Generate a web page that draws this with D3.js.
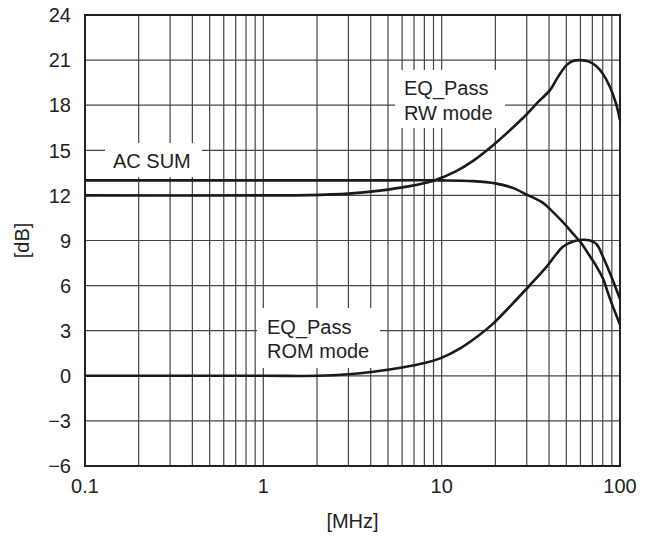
<!DOCTYPE html>
<html>
<head>
<meta charset="utf-8">
<script src="https://cdn.jsdelivr.net/npm/d3@7"></script>
<style>
  body { margin: 0; background: #fff; }
  text { font-family: "Liberation Sans", Arial, sans-serif; fill: #222; }
</style>
</head>
<body>
<div id="chart"></div>
<script>
// ─── Data ───────────────────────────────────────────────────────
const yTicks = [-6, -3, 0, 3, 6, 9, 12, 15, 18, 21, 24];
const xTickLabels = [0.1, 1, 10, 100];

const acSumFreq = [0.1, 1, 5, 10, 15, 20, 25, 30, 37, 42, 48, 55, 60, 67, 74, 80, 88, 100];
const acSumDb   = [13, 13, 13, 13, 12.95, 12.8, 12.5, 12.05, 11.5, 10.9, 10.2, 9.4, 8.9, 8.05, 7.25, 6.5, 5.1, 3.4];

const rwFreq = [0.1, 1, 1.8, 3, 4.5, 6.5, 9, 12, 15, 19.5, 25, 30, 35, 40.5, 45, 50.5, 55, 60, 67, 74, 80, 88, 95, 100];
const rwDb   = [12, 12, 12.02, 12.12, 12.32, 12.6, 12.98, 13.6, 14.3, 15.36, 16.5, 17.4, 18.25, 19.0, 19.9, 20.7, 20.95, 21.0, 20.9, 20.57, 20.1, 19.2, 18.1, 17.0];

const romFreq = [0.1, 1, 2, 3, 4.14, 6, 8, 9.8, 12.7, 16, 19.5, 25, 31.3, 38.8, 44, 48, 55, 62, 68, 74, 80, 88, 100];
const romDb   = [0, 0, 0, 0.1, 0.27, 0.55, 0.85, 1.16, 1.83, 2.65, 3.49, 4.8, 6.04, 7.26, 8.1, 8.6, 8.95, 9.05, 9.0, 8.75, 7.95, 6.8, 5.1];

const labels = [
    { lines: ['AC SUM'], box: [105, 143, 97, 34], x: 113, y: [168] },
    { lines: ['EQ_Pass', 'RW mode'], box: [395, 70, 110, 58], x: 404, y: [95, 120] },
    { lines: ['EQ_Pass', 'ROM mode'], box: [257, 308, 123, 60], x: 267, y: [334, 358] }
];

// ─── Layout ─────────────────────────────────────────────────────
const width = 648, height = 536;
const margin = { top: 15, right: 28, bottom: 70, left: 85 };
const fontSize = 20;

const svg = d3.select('#chart').append('svg')
    .attr('width', width)
    .attr('height', height);

const x = d3.scaleLog().domain([0.1, 100]).range([margin.left, width - margin.right]);
const y = d3.scaleLinear().domain([-6, 24]).range([height - margin.bottom, margin.top]);

// grid
const minor = [];
[0.1, 1, 10].forEach(d => { for (let k = 1; k <= 9; k++) if (!(d === 0.1 && k === 1)) minor.push(d * k); });

svg.append('g').selectAll('line')
    .data(minor)
    .join('line')
    .attr('x1', d => x(d)).attr('x2', d => x(d))
    .attr('y1', y(24)).attr('y2', y(-6))
    .attr('stroke', '#444')
    .attr('stroke-width', 1.2);

svg.append('g').selectAll('line')
    .data(yTicks.slice(1, -1))
    .join('line')
    .attr('x1', x(0.1)).attr('x2', x(100))
    .attr('y1', d => y(d)).attr('y2', d => y(d))
    .attr('stroke', '#444')
    .attr('stroke-width', 1.2);

// label boxes hide the grid
labels.forEach(l => {
    svg.append('rect')
        .attr('x', l.box[0]).attr('y', l.box[1])
        .attr('width', l.box[2]).attr('height', l.box[3])
        .attr('fill', '#fff');
});

// frame
svg.append('rect')
    .attr('x', x(0.1)).attr('y', y(24))
    .attr('width', x(100) - x(0.1))
    .attr('height', y(-6) - y(24))
    .attr('fill', 'none')
    .attr('stroke', '#222')
    .attr('stroke-width', 2);

// curves
const line = d3.line()
    .x(d => x(d[0]))
    .y(d => y(d[1]))
    .curve(d3.curveCatmullRom.alpha(0.5));

[[acSumFreq, acSumDb], [rwFreq, rwDb], [romFreq, romDb]].forEach(([f, v]) => {
    svg.append('path')
        .datum(f.map((d, i) => [d, v[i]]))
        .attr('d', line)
        .attr('fill', 'none')
        .attr('stroke', '#1a1a1a')
        .attr('stroke-width', 2.6);
});

// label text
labels.forEach(l => {
    l.lines.forEach((t, i) => {
        svg.append('text')
            .attr('x', l.x).attr('y', l.y[i])
            .attr('font-size', fontSize)
            .text(t);
    });
});

// ticks
svg.append('g').selectAll('text')
    .data(yTicks)
    .join('text')
    .attr('x', 71)
    .attr('y', d => y(d))
    .attr('dy', '0.36em')
    .attr('text-anchor', 'end')
    .attr('font-size', fontSize)
    .text(d => d < 0 ? '\u2212' + Math.abs(d) : d);

svg.append('g').selectAll('text')
    .data(xTickLabels)
    .join('text')
    .attr('x', d => x(d))
    .attr('y', 493)
    .attr('text-anchor', 'middle')
    .attr('font-size', fontSize)
    .text(d => d);

// axis titles
svg.append('text')
    .attr('x', x(0.1) + (x(100) - x(0.1)) / 2)
    .attr('y', 528)
    .attr('text-anchor', 'middle')
    .attr('font-size', fontSize)
    .text('[MHz]');

svg.append('text')
    .attr('transform', `translate(29,${(y(24) + y(-6)) / 2}) rotate(-90)`)
    .attr('text-anchor', 'middle')
    .attr('font-size', fontSize)
    .text('[dB]');
</script>
</body>
</html>
